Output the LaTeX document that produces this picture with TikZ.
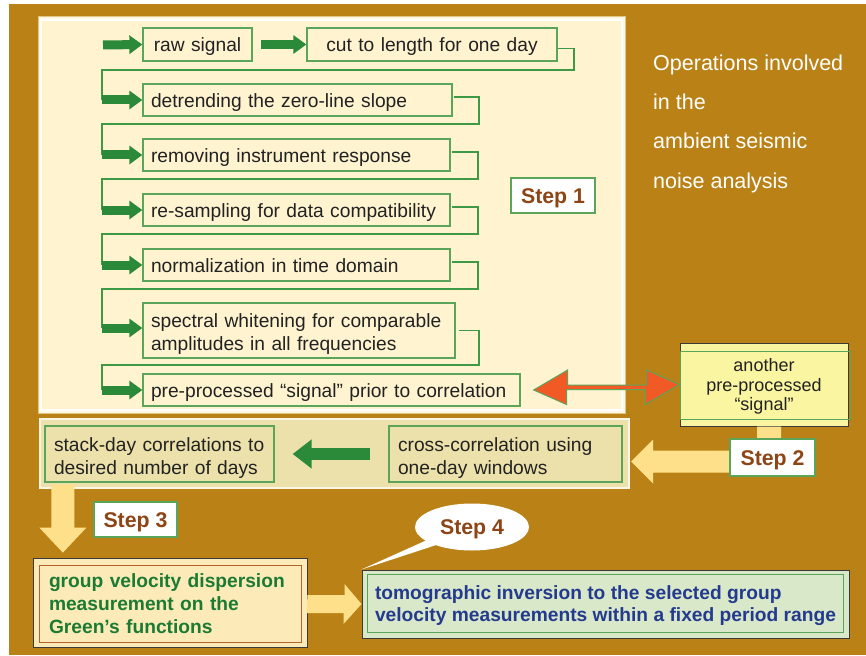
\documentclass[tikz,border=0pt]{standalone}
\usepackage{fontspec}
\setmainfont{Liberation Sans}
\usetikzlibrary{arrows.meta,shapes.callouts,calc}
\definecolor{bgbrown}{HTML}{BA8216}
\definecolor{cream}{HTML}{FFF3D0}
\definecolor{boxgreen}{HTML}{5AA55A}
\definecolor{connc}{HTML}{3F9A47}
\definecolor{arrgreen}{HTML}{2A8A3A}
\definecolor{txtdark}{HTML}{222222}
\definecolor{steptxt}{HTML}{8E4516}
\definecolor{bandtan}{HTML}{ECE1AA}
\definecolor{anoth}{HTML}{FAF5A0}
\definecolor{redarr}{HTML}{F15A24}
\definecolor{yelarr}{HTML}{FFE08A}
\definecolor{grpfill}{HTML}{FCEBB8}
\definecolor{grpinner}{HTML}{B8602A}
\definecolor{grptxt}{HTML}{1B7A33}
\definecolor{tomofill}{HTML}{D9E8C9}
\definecolor{tomotxt}{HTML}{233A8E}
\definecolor{darkedge}{HTML}{3A3A3A}
\newcommand{\bxfont}{\fontsize{19.2}{23}\selectfont}
\begin{document}
\begin{tikzpicture}[x=1pt,y=-1pt,
  box/.style={draw=boxgreen, line width=1.3pt, fill=cream, inner xsep=8pt, inner ysep=0pt,
    align=left, font=\bxfont, text=txtdark},
  oneline/.style={text height=15pt, text depth=0pt},
  twoline/.style={text height=17.5pt, text depth=23.5pt},
  conn/.style={draw=connc, line width=1.3pt},
  garrow/.style={draw=arrgreen, line width=9pt, -{Triangle[length=13pt,width=18pt]}},
  steplbl/.style={draw=boxgreen, line width=1.3pt, fill=white, text=steptxt,
    font=\fontsize{21.3}{25}\selectfont\bfseries, inner sep=0pt, text height=15.3pt, text depth=0pt},
  bandbox/.style={draw=boxgreen, line width=1.3pt, fill=bandtan, inner xsep=9pt, inner ysep=0pt,
    align=left, font=\bxfont, text=txtdark}]
\useasboundingbox (0,0) rectangle (866,655);
\fill[white] (0,0) rectangle (866,655);
\fill[bgbrown] (9,4) rectangle (866,655);
% step 1 panel
\draw[draw=cream!60!bgbrown, line width=1pt, fill=cream!60!white] (38,17) rectangle (625,413);
\draw[draw=white, line width=1.5pt, fill=cream] (41,20) rectangle (622,410);
% step 2 band
\draw[draw=white!70!bandtan, line width=1.5pt, fill=bandtan] (40,419) rectangle (629,488);

% step 1 boxes
\node[box, oneline, align=center, text width=93pt, minimum height=33pt] (raw) at (197.5,44.5) {raw signal};
\node[box, oneline, align=center, text width=234pt, minimum height=33pt] (cut) at (432,44.5) {cut to length for one day};
\node[box, oneline, text width=293pt, minimum height=32pt] (detr) at (297.5,100) {detrending the zero-line slope};
\node[box, oneline, text width=291pt, minimum height=32pt] (remov) at (296.5,155) {removing instrument response};
\node[box, oneline, text width=291pt, minimum height=32pt] (resamp) at (296.5,210) {re-sampling for data compatibility};
\node[box, oneline, text width=291pt, minimum height=32pt] (norm) at (296.5,265) {normalization in time domain};
\node[box, twoline, text width=296pt, minimum height=55pt] (spec) at (299,330.5) {spectral whitening for comparable\\amplitudes in all frequencies};
\node[box, oneline, text width=361pt, minimum height=32pt] (prep) at (331.5,390) {pre-processed “signal” prior to correlation};

% connectors
\coordinate (s0) at (103,45);
\coordinate (c1) at (574,70);  \coordinate (a1) at (102,100);
\coordinate (c2) at (479,124); \coordinate (a2) at (102,155);
\coordinate (c3) at (478,179); \coordinate (a3) at (102,210);
\coordinate (c4) at (478,234); \coordinate (a4) at (102,265);
\coordinate (c5) at (478,289); \coordinate (a5) at (102,328);
\coordinate (c6) at (479,365); \coordinate (a6) at (102,390);
\draw[conn] ([yshift=-4pt]cut.east) -| (c1) -| (a1);
\draw[conn] ([xshift=1pt,yshift=3pt]detr.east) -| (c2) -| (a2);
\draw[conn] ([xshift=1pt,yshift=3pt]remov.east) -| (c3) -| (a3);
\draw[conn] ([xshift=1pt,yshift=3pt]resamp.east) -| (c4) -| (a4);
\draw[conn] ([xshift=1pt,yshift=3pt]norm.east) -| (c5) -| (a5);
\draw[conn] ([xshift=3pt]spec.east) -| (c6) -| (a6);
\draw[garrow] (s0) -- (raw.west);
\draw[garrow, shorten <=8pt] (raw.east) -- (cut.west);
\draw[garrow] (a1) -- (detr.west);
\draw[garrow] (a2) -- (remov.west);
\draw[garrow] (a3) -- (resamp.west);
\draw[garrow] (a4) -- (norm.west);
\draw[garrow] (a5) -- (a5 -| spec.west);
\draw[garrow] (a6) -- (prep.west);

\node[steplbl, minimum width=84pt, minimum height=35pt] (st1) at (553,195.5) {Step 1};

% title text
\node[anchor=north west, text=white, align=left, inner sep=0pt,
  font=\fontsize{21.5}{39.3}\selectfont] (title) at (653,54.5)
  {Operations involved\\in the\\ambient seismic\\noise analysis};

% another pre-processed signal
\node[draw=darkedge, line width=1pt, fill=anoth, minimum width=168pt, minimum height=83pt,
  align=center, font=\fontsize{18}{19.5}\selectfont, text=txtdark, inner sep=0pt,
  text height=54pt, text depth=2pt] (anot) at (764,384.5)
  {another\\pre-processed\\“signal”};
\draw[draw=boxgreen, line width=1pt] ([shift={(1,9)}]anot.north west) rectangle ([shift={(2,-7)}]anot.south east);

% red double arrow
\coordinate (ra) at ([xshift=13pt]prep.east);
\draw[draw=boxgreen, line width=1pt, fill=redarr]
  (ra) -- ++(34,-20) -- ++(0,15) -- ++(79,0) -- ++(0,-15) -- (anot.west)
  -- ++(-34,20) -- ++(0,-15) -- ++(-79,0) -- ++(0,15) -- cycle;

% step 2 row
\node[bandbox, twoline, text width=211pt, minimum height=56pt] (stack) at (159.5,454) {stack-day correlations to\\desired number of days};
\node[bandbox, twoline, text width=215pt, minimum height=56pt] (cross) at (505.5,454) {cross-correlation using\\one-day windows};
\draw[draw=arrgreen, line width=12pt, -{Triangle[length=19pt,width=28pt]}, shorten <=18pt, shorten >=18pt] (cross.west) -- (stack.east);

% yellow L arrow from another box
\coordinate (ys) at ([xshift=-7pt]anot.south);
\fill[yelarr] (ys) -- ++(24,0) -- ++(0,46) -- ++(-128,0) -- ++(0,11) -- ++(-22,-22) -- ++(22,-22) -- ++(0,11) -- ++(104,0) -- cycle;
\node[steplbl, minimum width=85pt, minimum height=37pt] (st2) at (772.5,457.5) {Step 2};

% step 3 arrow
\coordinate (y3) at ([xshift=12pt]stack.south west);
\fill[yelarr] ([xshift=-5pt,yshift=-2pt]y3) -- ++(23,0) -- ++(0,43) -- ++(12,0) -- ++(-23.5,25) -- ++(-23.5,-25) -- ++(12,0) -- cycle;
\node[steplbl, minimum width=83pt, minimum height=35pt] (st3) at (135.5,519.5) {Step 3};

% group velocity box
\node[draw=darkedge, line width=1pt, fill=grpfill, minimum width=274pt, minimum height=89pt,
  text width=242pt, inner xsep=16pt, inner ysep=0pt, align=left, text=grptxt,
  text height=16pt, text depth=48pt,
  font=\fontsize{19.2}{23}\selectfont\bfseries] (grp) at (170,603)
  {group velocity dispersion\\measurement on the\\Green’s functions};
\draw[draw=grpinner, line width=1pt] ([shift={(7,7)}]grp.north west) rectangle ([shift={(-6,-6)}]grp.south east);

% tomographic box
\node[draw=darkedge, line width=1pt, fill=tomofill, minimum width=487pt, minimum height=68pt,
  align=left, text=tomotxt, inner ysep=0pt, text height=37.5pt, text depth=2.5pt,
  font=\fontsize{19.2}{22}\selectfont\bfseries] (tomo) at (605.5,604)
  {tomographic inversion to the selected group\\velocity measurements within a fixed period range};
\draw[draw=boxgreen, line width=1pt] ([shift={(6,5)}]tomo.north west) rectangle ([shift={(-6,-6)}]tomo.south east);

% arrow group -> tomo
\coordinate (gt) at ([yshift=-1pt]grp.east);
\fill[yelarr] ([yshift=9pt]gt) -- ++(37,0) -- ++(0,-11) -- (tomo.west) -- ++(-18,20) -- ++(0,-11) -- ++(-37,0) -- cycle;

% step 4 callout
\node[ellipse callout, fill=white, minimum width=114pt, minimum height=47pt, inner sep=0pt,
  callout absolute pointer={(tomo.north west)}, text=steptxt, text height=15.3pt, text depth=0pt,
  font=\fontsize{21.3}{25}\selectfont\bfseries] (st4) at (472,527) {Step 4};
\end{tikzpicture}
\end{document}
